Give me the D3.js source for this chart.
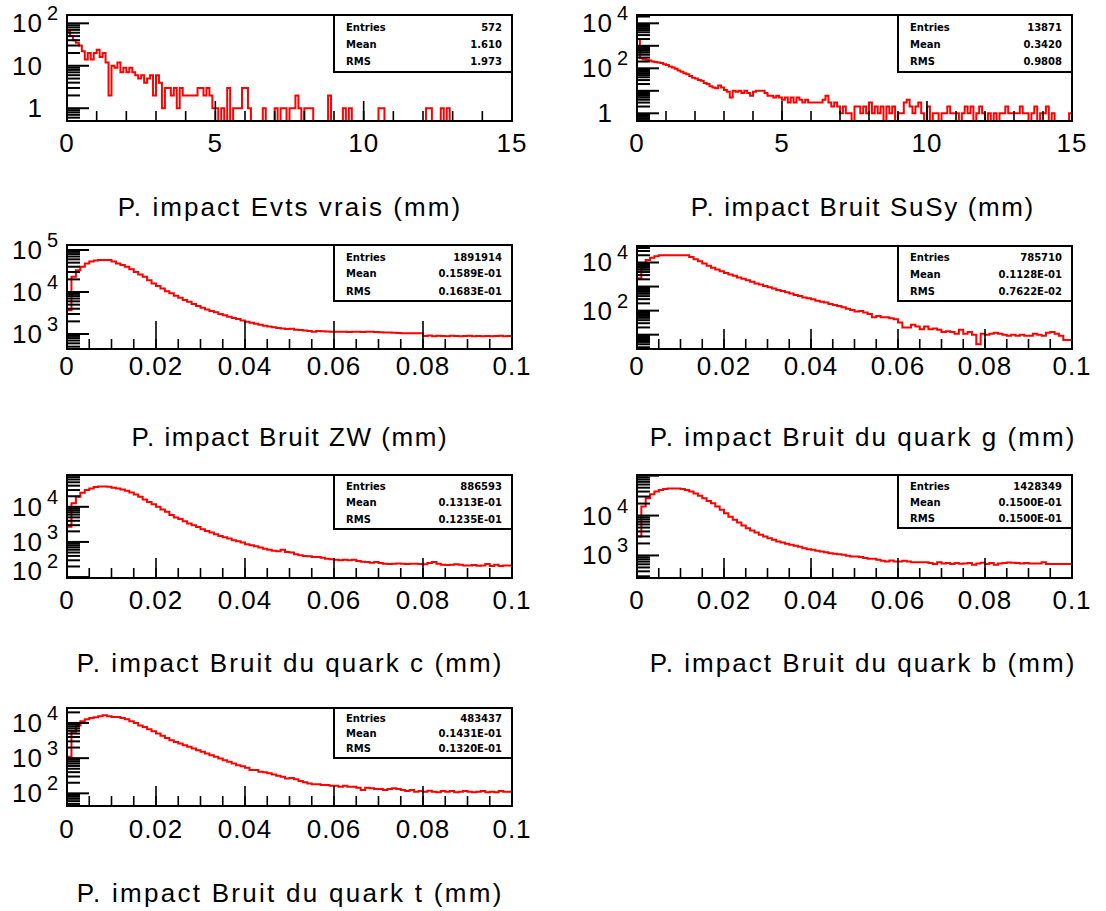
<!DOCTYPE html>
<html>
<head>
<meta charset="utf-8">
<script src="https://cdn.jsdelivr.net/npm/d3@7"></script>
<style>
body { margin: 0; background: #fff; }
svg { display: block; font-family: "Liberation Sans", Arial, sans-serif; }
</style>
</head>
<body>
<svg width="1106" height="911"></svg>
<script>
// bin contents (one value per bin)
const binsEvts = [
  63,50,40,35,30,22,14,20,14,20, 24,16,20,12,2,10,9,12,7,9,
  7,9,7,6,5,6,4,5,6,2, 6,4,1,3,3,2,3,1,3,2,
  2,2,2,2,3,3,2,3,2,1, 1,0,1,0,3,0,1,1,1,3,
  3,1,0,0,0,0,1,0,0,0, 1,0,1,1,0,1,1,2,1,0,
  1,1,1,0,0,0,0,0,2,0, 0,0,0,1,0,1,0,0,0,0,
  0,0,0,0,0,1,1,0,0,0, 0,0,0,0,0,0,0,0,0,0,
  0,1,1,0,0,0,1,0,1,0, 0,0,0,0,0,0,0,0,0,0,
  0,0,0,0,0,0,0,0,0,0
];
const binsSusy = [
  2000,280,250,240,220,200,190,180,170,150, 140,120,110,95,80,70,60,55,45,38,
  35,30,28,22,20,16,14,13,17,14, 11,9,5,10,9,10,8,10,8,6,
  9,10,10,10,8,6,6,5,6,5, 4,5,3,5,3,5,4,3,4,3,
  3,3,3,3,4,6,3,2,3,2, 1,2,1,1,0,2,2,1,2,1,
  3,1,2,1,2,0,2,1,2,0, 1,1,3,4,2,1,2,3,1,0,
  2,0,1,1,0,1,1,2,1,1, 1,0,1,2,1,2,0,1,2,1,
  0,1,0,1,0,1,1,2,1,1, 1,1,2,1,1,0,1,2,0,1,
  1,2,0,1,0,0,0,0,0,1
];
const binsZW = [
  3700,23000,33000,40000,48000,53000,56000,58000,58000,58000,
  53000,48000,44000,40000,35000,30000,26000,23000,19000,16000,
  14000,12200,10500,9300,8200,7300,6450,5900,5200,4650,
  4230,3860,3530,3280,3000,2780,2580,2400,2280,2110,
  1960,1860,1760,1670,1580,1520,1440,1390,1360,1310,
  1330,1270,1250,1220,1180,1140,1180,1160,1150,1140,
  1140,1130,1140,1120,1130,1140,1120,1130,1140,1120,
  1100,1090,1080,1070,1060,1050,1050,1040,1050,1040,
  900,920,890,910,900,880,910,900,890,900,
  910,890,900,880,900,890,900,910,880,900
];
const binsG = [
  2200,9100,12600,15600,18100,20000,20000,20000,20000,20000,
  20000,20000,17000,13800,11400,9100,7300,6000,5100,4350,
  3700,3170,2800,2390,2100,1850,1580,1350,1230,1050,
  930,840,720,650,575,520,445,405,355,325,
  295,260,235,215,190,170,155,137,121,106,
  91,97,83,73,53,60,53,53,48,44,
  32,20,20,26,22,17,22,17,18,16,
  13,14,13,11,16,11,13,10,4,11,
  10,11,12,11,10,9,10,9,10,9,
  9,11,10,9,12,13,11,9,6,6
];
const binsC = [
  2700,12600,19300,25000,30000,33400,36500,38000,38000,37000,
  34800,33400,31000,28700,25700,22500,19300,16200,13800,11900,
  10000,8400,7200,5800,5000,4500,3900,3350,3000,2650,
  2300,2060,1850,1650,1480,1360,1250,1120,1050,960,
  860,800,750,690,640,600,565,540,600,520,
  500,445,415,400,390,373,373,357,334,320,
  313,299,313,299,313,286,274,268,257,268,
  251,240,235,240,245,240,235,240,240,235,
  230,251,268,240,225,220,225,230,225,215,
  215,220,210,215,235,206,225,206,215,215
];
const binsB = [
  3000,16800,27000,34000,40000,43600,46400,48000,48000,48000,
  46400,43600,40000,36000,31600,27000,23200,20300,16800,13900,
  11400,9400,7800,6700,5600,4800,4200,3760,3300,2980,
  2710,2460,2240,2110,1960,1850,1740,1650,1520,1440,
  1390,1310,1260,1210,1140,1100,1070,1040,980,945,
  945,910,860,830,830,780,735,710,750,710,
  710,735,710,680,680,680,680,643,607,680,
  631,643,607,643,619,631,643,584,631,655,
  607,643,584,631,643,668,655,643,631,643,
  631,631,631,680,607,607,607,607,607,607
];
const binsT = [
  1100,5600,8500,11100,12700,13900,14500,15400,16500,15400,
  14700,14700,13900,12700,11100,10000,8500,7700,6600,5800,
  5000,4300,3760,3230,2900,2600,2340,2100,1870,1680,
  1510,1350,1210,1090,980,875,790,705,630,590,
  530,460,460,410,400,370,345,315,295,265,
  275,250,225,205,190,180,180,172,172,165,
  165,154,165,154,154,145,124,145,139,133,
  133,124,133,139,133,124,116,124,111,116,
  111,119,111,107,116,111,116,107,111,116,
  111,107,111,116,107,111,107,116,111,111
];

const titles = [
  "P. impact Evts vrais (mm)", "P. impact Bruit SuSy (mm)",
  "P. impact Bruit ZW (mm)", "P. impact Bruit du quark g (mm)",
  "P. impact Bruit du quark c (mm)", "P. impact Bruit du quark b (mm)",
  "P. impact Bruit du quark t (mm)"
];
const statNames = ["Entries", "Mean", "RMS"];
const entries = ["572", "13871", "1891914", "785710", "886593", "1428349", "483437"];
const means = ["1.610", "0.3420", "0.1589E-01", "0.1128E-01", "0.1313E-01", "0.1500E-01", "0.1431E-01"];
const rmsValues = ["1.973", "0.9808", "0.1683E-01", "0.7622E-02", "0.1235E-01", "0.1500E-01", "0.1320E-01"];

const xTicksWide = [0, 5, 10, 15];
const xTickLabelsWide = ["0", "5", "10", "15"];
const xTicksNarrow = [0, 0.02, 0.04, 0.06, 0.08, 0.1];
const xTickLabelsNarrow = ["0", "0.02", "0.04", "0.06", "0.08", "0.1"];

// y label decades for each pad
const yLabelPowers = [[0, 1, 2], [0, 2, 4], [3, 4, 5], [2, 4], [2, 3, 4], [3, 4], [2, 3, 4]];

// pad geometry (pixels) and log ranges
const pads = [
  {x0: 67,  x1: 512,  y0: 15,  y1: 121, lo: 0.50, hi: 157,    xMax: 15,  boxH: 57, labelDy: 31, major: 20, titleX: 289, titleY: 216},
  {x0: 637, x1: 1072, y0: 15,  y1: 121, lo: 0.455, hi: 23400, xMax: 15,  boxH: 57, labelDy: 31, major: 20, titleX: 862, titleY: 216},
  {x0: 67,  x1: 512,  y0: 245, y1: 349, lo: 440, hi: 131600,  xMax: 0.1, boxH: 56, labelDy: 26, major: 28, titleX: 289, titleY: 446},
  {x0: 637, x1: 1072, y0: 246, y1: 349, lo: 2.54, hi: 48500,  xMax: 0.1, boxH: 55, labelDy: 26, major: 20, titleX: 862, titleY: 446},
  {x0: 67,  x1: 512,  y0: 475, y1: 578, lo: 94, hi: 80500,    xMax: 0.1, boxH: 54, labelDy: 31, major: 20, titleX: 289, titleY: 672},
  {x0: 637, x1: 1072, y0: 475, y1: 578, lo: 272, hi: 104000,  xMax: 0.1, boxH: 53, labelDy: 31, major: 20, titleX: 862, titleY: 672},
  {x0: 67,  x1: 512,  y0: 708, y1: 806, lo: 43.7, hi: 26600,  xMax: 0.1, boxH: 50, labelDy: 32, major: 20, titleX: 289, titleY: 902}
];
const allBins = [binsEvts, binsSusy, binsZW, binsG, binsC, binsB, binsT];

const svg = d3.select("svg");
const defs = svg.append("defs");

pads.forEach((p, k) => {
  const bins = allBins[k];
  const g = svg.append("g");
  const x = d3.scaleLinear().domain([0, p.xMax]).range([p.x0, p.x1]);
  const y = d3.scaleLog().domain([p.lo, p.hi]).range([p.y1, p.y0]).clamp(true);

  defs.append("clipPath").attr("id", "clip" + k)
    .append("rect").attr("x", p.x0).attr("y", p.y0)
    .attr("width", p.x1 - p.x0).attr("height", p.y1 - p.y0);

  // histogram outline
  const bw = p.xMax / bins.length;
  const pts = [[0, 0]];
  bins.forEach((v, i) => { pts.push([i * bw, v]); pts.push([(i + 1) * bw, v]); });
  const line = d3.line()
    .x(d => x(d[0]))
    .y(d => d[1] > 0 ? y(d[1]) : p.y1);
  g.append("path").datum(pts)
    .attr("clip-path", "url(#clip" + k + ")")
    .attr("d", line)
    .attr("fill", "none").attr("stroke", "#ff0000").attr("stroke-width", 2);

  // y ticks (log)
  const nLo = Math.floor(Math.log10(p.lo)), nHi = Math.ceil(Math.log10(p.hi));
  const yTicks = [];
  for (let n = nLo; n <= nHi; n++) {
    for (let m = 1; m <= 9; m++) {
      const v = m * Math.pow(10, n);
      if (v >= p.lo && v <= p.hi) yTicks.push({v: v, major: m === 1});
    }
  }
  g.selectAll("line.yt").data(yTicks).enter().append("line")
    .attr("x1", p.x0).attr("x2", d => p.x0 + (d.major ? 22 : 13))
    .attr("y1", d => y(d.v)).attr("y2", d => y(d.v))
    .attr("stroke", "#000").attr("stroke-width", 2);

  // x ticks
  const wide = p.xMax === 15;
  const minorStep = wide ? 1 : 0.005;
  const majorTicks = wide ? xTicksWide : xTicksNarrow;
  const minors = d3.range(0, p.xMax + minorStep / 2, minorStep);
  g.selectAll("line.xm").data(minors).enter().append("line")
    .attr("x1", d => x(d)).attr("x2", d => x(d))
    .attr("y1", p.y1).attr("y2", p.y1 - 10)
    .attr("stroke", "#000").attr("stroke-width", 1.6);
  g.selectAll("line.xM").data(majorTicks).enter().append("line")
    .attr("x1", d => x(d)).attr("x2", d => x(d))
    .attr("y1", p.y1).attr("y2", p.y1 - p.major)
    .attr("stroke", "#000").attr("stroke-width", 1.6);

  // frame
  g.append("rect").attr("x", p.x0).attr("y", p.y0)
    .attr("width", p.x1 - p.x0).attr("height", p.y1 - p.y0)
    .attr("fill", "none").attr("stroke", "#000").attr("stroke-width", 2);

  // x labels
  const labels = wide ? xTickLabelsWide : xTickLabelsNarrow;
  g.selectAll("text.xl").data(majorTicks).enter().append("text")
    .attr("x", d => x(d)).attr("y", p.y1 + p.labelDy)
    .attr("text-anchor", "middle").attr("font-size", 26)
    .attr("letter-spacing", 1)
    .text((d, i) => labels[i]);

  // y labels
  yLabelPowers[k].forEach(n => {
    const cy = Math.min(y(Math.pow(10, n)), p.y1 - 7);
    g.append("text")
      .attr("x", p.x0 - 24).attr("y", cy + 9)
      .attr("text-anchor", "end").attr("font-size", 26).attr("letter-spacing", 1)
      .text(n === 0 ? "1" : "10");
    if (n > 1) {
      g.append("text")
        .attr("x", p.x0 - 20).attr("y", cy - 3)
        .attr("font-size", 20)
        .text(n);
    }
  });

  // stats box
  const bx = p.x0 + 0.6 * (p.x1 - p.x0);
  g.append("rect").attr("x", bx).attr("y", p.y0)
    .attr("width", p.x1 - bx).attr("height", p.boxH)
    .attr("fill", "#fff").attr("stroke", "#000").attr("stroke-width", 2);
  const vals = [entries[k], means[k], rmsValues[k]];
  [0.28, 0.58, 0.885].forEach((f, r) => {
    g.append("text").attr("x", bx + 12).attr("y", p.y0 + p.boxH * f)
      .attr("font-family", "DejaVu Sans").attr("font-weight", "bold").attr("font-size", 10)
      .text(statNames[r]);
    g.append("text").attr("x", p.x1 - 10).attr("y", p.y0 + p.boxH * f)
      .attr("text-anchor", "end")
      .attr("font-family", "DejaVu Sans").attr("font-weight", "bold").attr("font-size", 10)
      .text(vals[r]);
  });

  // title
  g.append("text").attr("x", p.titleX).attr("y", p.titleY)
    .attr("text-anchor", "middle").attr("font-size", 26)
    .attr("textLength", titles[k].length * 13.7).attr("lengthAdjust", "spacing")
    .text(titles[k]);
});
</script>
</body>
</html>
